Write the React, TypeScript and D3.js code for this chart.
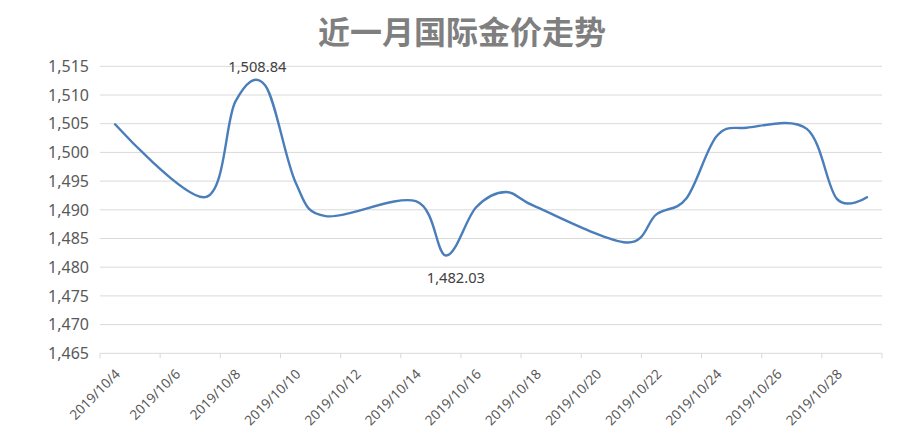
import React from "react";
import * as d3 from "d3";

const title = "近一月国际金价走势";
const dates = [
  "2019-10-04", "2019-10-07", "2019-10-08", "2019-10-09", "2019-10-10", "2019-10-11",
  "2019-10-14", "2019-10-15", "2019-10-16", "2019-10-17", "2019-10-18",
  "2019-10-21", "2019-10-22", "2019-10-23", "2019-10-24", "2019-10-25",
  "2019-10-27", "2019-10-28", "2019-10-29",
];
const prices = [
  1504.9, 1492.2, 1508.84, 1511.6, 1494.8, 1488.9,
  1491.5, 1482.03, 1490.4, 1493.1, 1490.5,
  1484.3, 1489.2, 1492.0, 1502.8, 1504.3,
  1504.1, 1491.9, 1492.2,
];
const xTickLabels = [
  "2019/10/4", "2019/10/6", "2019/10/8", "2019/10/10", "2019/10/12", "2019/10/14", "2019/10/16",
  "2019/10/18", "2019/10/20", "2019/10/22", "2019/10/24", "2019/10/26", "2019/10/28",
];
const yTickValues = [1465, 1470, 1475, 1480, 1485, 1490, 1495, 1500, 1505, 1510, 1515];
const labelledPrices = [1508.84, 1482.03];

export default function App() {
  React.useEffect(() => {
    document.body.style.margin = "0";
  }, []);

  const W = 916;
  const H = 436;
  const left = 100;
  const right = 882;
  const top = 66.3;
  const bottom = 353.3;

  const parseIso = d3.utcParse("%Y-%m-%d");
  const parseLabel = d3.utcParse("%Y/%m/%d");
  const data = dates.map((d, i) => ({ date: parseIso(d) as Date, v: prices[i] }));

  const start = d3.utcHour.offset(data[0].date, -12);
  const end = d3.utcHour.offset(data[data.length - 1].date, 12);
  const x = d3.scaleUtc().domain([start, end]).range([left, right]);
  const y = d3.scaleLinear().domain([yTickValues[0], yTickValues[yTickValues.length - 1]]).range([bottom, top]);

  const nDays = d3.utcDay.count(start, end);
  const tickDates = d3.range(0, nDays + 1, 2).map((i) => d3.utcDay.offset(start, i));

  const line = d3
    .line<{ date: Date; v: number }>()
    .x((d) => x(d.date))
    .y((d) => y(d.v))
    .curve(d3.curveCardinal.tension(0));

  const fmtY = d3.format(",");
  const fmtL = d3.format(",.2f");

  const labelPts = labelledPrices.map((p) => data.find((d) => d.v === p)!);
  const labelOffsets = [
    { dx: 22, dy: -30 },
    { dx: 10, dy: 27 },
  ];

  return (
    <svg width={W} height={H} style={{ display: "block", background: "#fff" }} fontFamily="'Noto Sans', sans-serif">
      <text
        x={462}
        y={44}
        textAnchor="middle"
        fontFamily="'Noto Sans CJK SC', sans-serif"
        fontWeight="bold"
        fontSize={32}
        fill="#7f7f7f"
      >
        {title}
      </text>

      {yTickValues.map((t) => (
        <g key={t}>
          <line x1={left} x2={right} y1={y(t)} y2={y(t)} stroke="#d9d9d9" strokeWidth={1} />
          <text x={89} y={y(t)} dy="0.36em" textAnchor="end" fontSize={16} fill="#595959">
            {fmtY(t)}
          </text>
        </g>
      ))}

      {tickDates.map((d, i) => (
        <line key={i} x1={x(d)} x2={x(d)} y1={bottom} y2={bottom + 5} stroke="#d9d9d9" strokeWidth={1} />
      ))}

      {xTickLabels.map((l) => {
        const px = x(parseLabel(l) as Date);
        return (
          <text
            key={l}
            transform={`translate(${px + 6},${375}) rotate(-45)`}
            textAnchor="end"
            fontSize={13.6}
            fill="#595959"
          >
            {l}
          </text>
        );
      })}

      <path d={line(data) || ""} fill="none" stroke="#4a7ebb" strokeWidth={2.4} strokeLinecap="round" strokeLinejoin="round" />

      {labelPts.map((d, i) => (
        <text
          key={i}
          x={x(d.date) + labelOffsets[i].dx}
          y={y(d.v) + labelOffsets[i].dy}
          textAnchor="middle"
          fontSize={14.67}
          fill="#404040"
        >
          {fmtL(d.v)}
        </text>
      ))}
    </svg>
  );
}
